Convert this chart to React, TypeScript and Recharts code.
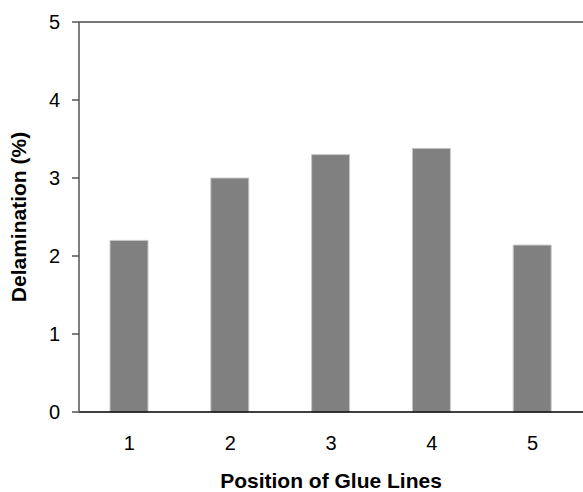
import React from 'react';
import { BarChart, Bar, XAxis, YAxis, ReferenceLine } from 'recharts';

const positions = ['1', '2', '3', '4', '5'];
const delamination = [2.2, 3.0, 3.3, 3.38, 2.14];
const yTicks = [0, 1, 2, 3, 4, 5];

const data = positions.map((p, i) => ({ position: p, value: delamination[i] }));

const font = 'Arial, "Liberation Sans", sans-serif';

export default function App() {
  return (
    <div style={{ position: 'absolute', left: 0, top: 0, width: 583, height: 492, background: '#fff' }}>
      <BarChart
        width={583}
        height={492}
        data={data}
        margin={{ top: 22, right: 0, left: 0, bottom: 0 }}
        barCategoryGap={0}
      >
        <XAxis
          dataKey="position"
          height={80}
          tickLine={false}
          tickSize={0}
          tickMargin={24}
          axisLine={{ stroke: '#000', strokeWidth: 1.5 }}
          tick={{ fill: '#000', fontSize: 20, fontFamily: font }}
          label={{
            value: 'Position of Glue Lines',
            position: 'insideBottom',
            offset: 4,
            fill: '#000',
            fontSize: 21,
            fontWeight: 'bold',
            fontFamily: font,
          }}
        />
        <YAxis
          width={79}
          domain={[0, 5]}
          ticks={yTicks}
          tickSize={7}
          tickMargin={12}
          axisLine={{ stroke: '#555', strokeWidth: 1.5 }}
          tickLine={{ stroke: '#555', strokeWidth: 1.5 }}
          tick={{ fill: '#000', fontSize: 20, fontFamily: font }}
          label={{
            value: 'Delamination (%)',
            angle: -90,
            position: 'insideLeft',
            offset: 19,
            style: { textAnchor: 'middle' },
            fill: '#000',
            fontSize: 21,
            fontWeight: 'bold',
            fontFamily: font,
          }}
        />
        <ReferenceLine y={5} stroke="#777" strokeWidth={2} />
        <Bar
          dataKey="value"
          barSize={38}
          fill="#808080"
          stroke="#c8c8c8"
          strokeWidth={1}
          isAnimationActive={false}
        />
      </BarChart>
    </div>
  );
}
